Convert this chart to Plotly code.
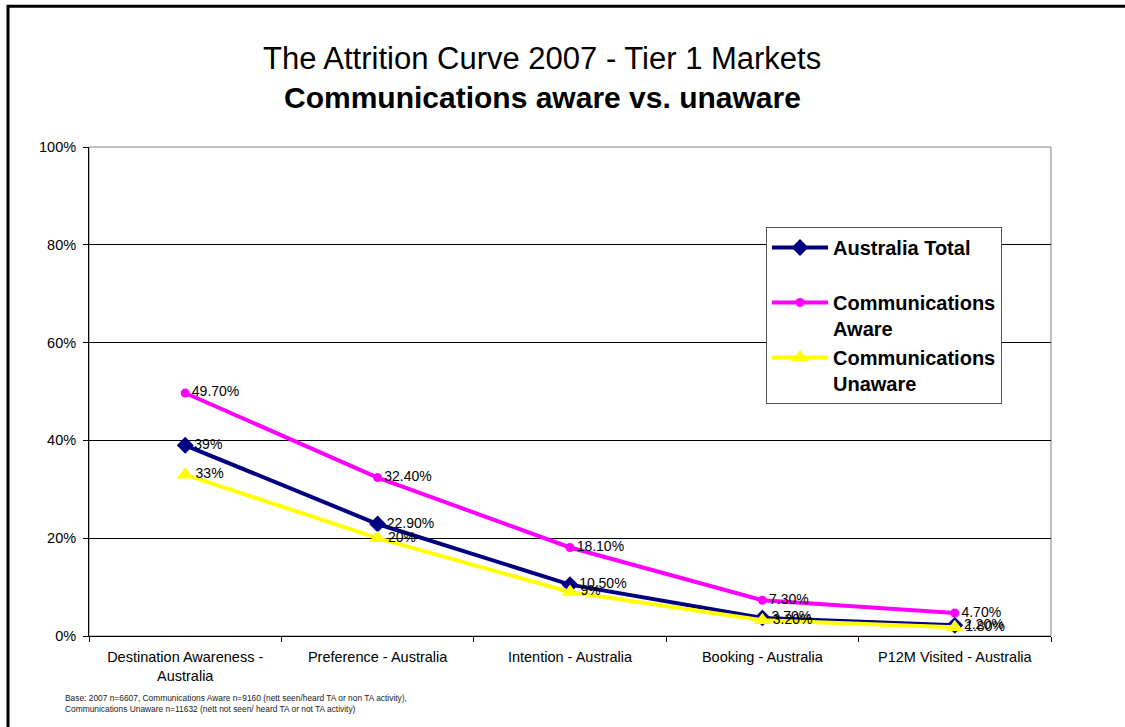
import plotly.graph_objects as go

# Attrition stages along the funnel
stages = [
    "Destination Awareness -<br>Australia",
    "Preference - Australia",
    "Intention - Australia",
    "Booking - Australia",
    "P12M Visited - Australia",
]

# Share of respondents at each stage (%)
australia_total = [39, 22.9, 10.5, 3.7, 2.2]
comms_aware = [49.7, 32.4, 18.1, 7.3, 4.7]
comms_unaware = [33, 20, 9, 3.2, 1.8]

y_ticks = [0, 20, 40, 60, 80, 100]


def pct_label(v):
    return f"{v:.0f}%" if float(v).is_integer() else f"{v:.2f}%"


def frac(values):
    return [v / 100 for v in values]


series = [
    ("Australia Total", australia_total, "#000080", "diamond", 13),
    ("Communications<br>Aware", comms_aware, "#FF00FF", "circle", 9),
    ("Communications<br>Unaware", comms_unaware, "#FFFF00", "triangle-up", 15),
]

fig = go.Figure()
for name, vals, color, symbol, msize in series:
    lines = name.split("<br>")
    if len(lines) == 1:
        lines.append(" ")
    legend_name = "<br>".join(f"<b>{ln}</b>" for ln in lines)
    fig.add_trace(go.Scatter(
        x=stages,
        y=frac(vals),
        name=legend_name,
        mode="lines+markers+text",
        line=dict(color=color, width=4),
        marker=dict(color=color, symbol=symbol, size=msize),
        text=[pct_label(v) for v in vals],
        textposition="middle right",
        textfont=dict(family="Arial, Liberation Sans", size=14, color="#000000"),
        cliponaxis=False,
    ))

fig.update_layout(
    width=1125,
    height=727,
    margin=dict(l=89, r=74, t=147, b=91),
    paper_bgcolor="white",
    plot_bgcolor="white",
    font=dict(family="Arial, Liberation Sans", color="#000000"),
    showlegend=True,
    legend=dict(
        x=(766 - 89) / 962, y=(636 - 227) / 489, xanchor="left", yanchor="top",
        bgcolor="white", bordercolor="#555555", borderwidth=1,
        font=dict(size=20, family="Arial, Liberation Sans", color="#000000"),
        valign="top",
        itemwidth=56,
        traceorder="normal",
    ),
    xaxis=dict(
        type="category",
        tickson="boundaries",
        ticks="outside",
        ticklen=5,
        tickcolor="#000000",
        ticklabelstandoff=8,
        showline=True,
        linecolor="#000000",
        linewidth=1,
        showgrid=False,
        tickfont=dict(size=14.5, family="Arial, Liberation Sans", color="#000000"),
        range=[-0.5, 4.5],
    ),
    yaxis=dict(
        range=[0, 1],
        tickvals=[t / 100 for t in y_ticks],
        ticktext=[f"{t}%" for t in y_ticks],
        ticks="outside",
        ticklen=5,
        tickcolor="#000000",
        ticklabelstandoff=4,
        showline=True,
        linecolor="#000000",
        linewidth=1,
        showgrid=True,
        gridcolor="#000000",
        gridwidth=1,
        zeroline=False,
        tickfont=dict(size=14.5, family="Arial, Liberation Sans", color="#000000"),
    ),
    shapes=[
        # plot-area border
        dict(type="rect", xref="paper", yref="paper", x0=0, x1=1, y0=0, y1=1,
             line=dict(color="#808080", width=1), layer="below"),
        # outer chart frame
        dict(type="rect", xref="paper", yref="paper",
             x0=-0.0842, x1=1.2, y0=-0.5, y1=1.288,
             line=dict(color="#000000", width=3)),
    ],
    annotations=[
        dict(text="The Attrition Curve 2007 - Tier 1 Markets", xref="paper", yref="paper",
             x=(542 - 89) / 962, y=(636 - 58) / 489, xanchor="center", yanchor="middle",
             showarrow=False, font=dict(size=31, family="Arial, Liberation Sans")),
        dict(text="<b>Communications aware vs. unaware</b>", xref="paper", yref="paper",
             x=(542 - 89) / 962, y=(636 - 97) / 489, xanchor="center", yanchor="middle",
             showarrow=False, font=dict(size=30, family="Arial, Liberation Sans")),
        dict(text="Base: 2007 n=6607, Communications Aware n=9160 (nett seen/heard TA or non TA activity),"
                  "<br>Communications Unaware n=11632 (nett not seen/ heard TA or not TA activity)",
             xref="paper", yref="paper",
             x=(63 - 89) / 962, y=(636 - 703) / 489, xanchor="left", yanchor="middle",
             align="left", showarrow=False,
             font=dict(size=8.4, family="Arial, Liberation Sans", color="#222222")),
    ],
)

fig.write_html("out.html")
